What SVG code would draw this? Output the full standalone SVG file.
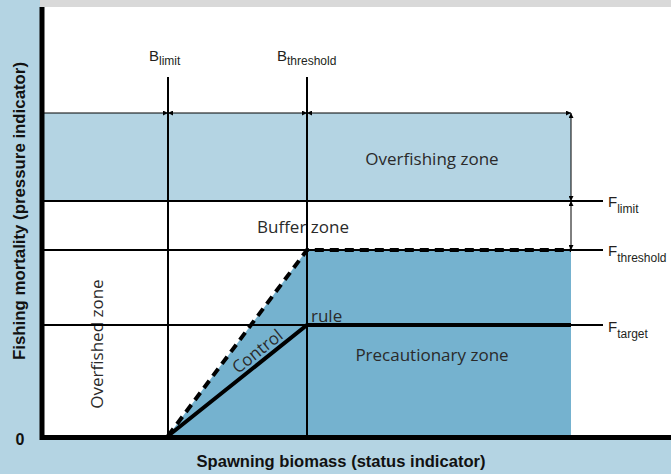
<svg xmlns="http://www.w3.org/2000/svg" width="671" height="474" viewBox="0 0 671 474">
  <style>
    .zone{font-family:"Open Sans","Liberation Sans",sans-serif;font-size:17px;fill:#2a2a2a}
    .ref{font-family:"Liberation Sans",Arial,sans-serif;font-size:15px;fill:#231f20}
    .sub{font-size:12px}
    .axis{font-family:"Liberation Sans",Arial,sans-serif;font-weight:bold;font-size:16px;fill:#111}
    .grid{stroke:#000;stroke-width:2;fill:none}
    .dim{stroke:#000;stroke-width:1;fill:none;marker-end:url(#tip)}
    .both{marker-start:url(#tip)}
    .rule{stroke:#000;stroke-width:4;fill:none;stroke-linejoin:miter}
    .dash{stroke:#000;stroke-width:4;fill:none;stroke-dasharray:9 6}
  </style>
  <defs>
    <marker id="tip" viewBox="0 0 6 6" refX="6" refY="3" markerWidth="5" markerHeight="5" markerUnits="userSpaceOnUse" orient="auto-start-reverse">
      <path d="M0,0 L6,3 L0,6 z" fill="#000"/>
    </marker>
  </defs>

  <!-- frame and plotting area -->
  <rect x="0" y="0" width="671" height="474" fill="#b4d4e3"/>
  <rect x="40" y="0" width="631" height="7" fill="#d9d9d9"/>
  <rect x="42" y="7" width="629" height="430" fill="#fff"/>

  <!-- zones -->
  <g id="overfishing-zone">
    <rect x="44" y="113" width="527" height="88" fill="#b4d4e3"/>
    <text class="zone" x="432" y="165" text-anchor="middle">Overfishing zone</text>
  </g>
  <g id="precautionary-zone">
    <polygon points="168,436 307,250 571,250 571,436" fill="#75b2cf"/>
    <text class="zone" x="432" y="361" text-anchor="middle">Precautionary zone</text>
  </g>
  <g id="buffer-zone">
    <text class="zone" x="257" y="233">Buffer zone</text>
  </g>
  <g id="overfished-zone">
    <text class="zone" transform="translate(103,344) rotate(-90)" text-anchor="middle">Overfished zone</text>
  </g>

  <!-- reference lines and dimension arrows -->
  <g id="connectors">
    <line class="grid" x1="168" y1="77" x2="168" y2="436"/>
    <line class="grid" x1="307" y1="77" x2="307" y2="436"/>
    <line class="grid" x1="44" y1="201" x2="603" y2="201"/>
    <line class="grid" x1="44" y1="250" x2="603" y2="250"/>
    <line class="grid" x1="44" y1="325" x2="603" y2="325"/>
    <line class="dim" x1="44" y1="113" x2="168" y2="113"/>
    <line class="dim both" x1="168" y1="113" x2="307" y2="113"/>
    <line class="dim both" x1="307" y1="113" x2="571" y2="113"/>
    <line class="dim both" x1="571" y1="113" x2="571" y2="201"/>
    <line class="dim both" x1="571" y1="201" x2="571" y2="250"/>
    <polyline class="dash" points="168,436 307,250 571,250"/>
    <polyline class="rule" points="168,436 307,325 571,325"/>
  </g>

  <g id="control-rule">
    <text class="zone" transform="translate(261,356) rotate(-38.6)" text-anchor="middle">Control</text>
    <text class="zone" x="311" y="322">rule</text>
  </g>

  <!-- reference point labels -->
  <g id="b-limit"><text class="ref" x="149" y="61">B<tspan class="sub" dy="4">limit</tspan></text></g>
  <g id="b-threshold"><text class="ref" x="277" y="61">B<tspan class="sub" dy="4">threshold</tspan></text></g>
  <g id="f-limit"><text class="ref" x="608" y="207">F<tspan class="sub" dy="6">limit</tspan></text></g>
  <g id="f-threshold"><text class="ref" x="608" y="256">F<tspan class="sub" dy="6">threshold</tspan></text></g>
  <g id="f-target"><text class="ref" x="608" y="332">F<tspan class="sub" dy="6">target</tspan></text></g>

  <!-- axes -->
  <g id="axes">
    <line x1="42" y1="7" x2="42" y2="440" stroke="#000" stroke-width="5"/>
    <line x1="40" y1="437.5" x2="671" y2="437.5" stroke="#000" stroke-width="5"/>
    <text class="axis" x="20" y="445" text-anchor="middle">0</text>
    <text class="axis" x="341" y="467" text-anchor="middle" textLength="289" lengthAdjust="spacingAndGlyphs">Spawning biomass (status indicator)</text>
    <text class="axis" transform="translate(25,211) rotate(-90)" text-anchor="middle" textLength="298" lengthAdjust="spacingAndGlyphs">Fishing mortality (pressure indicator)</text>
  </g>
</svg>
